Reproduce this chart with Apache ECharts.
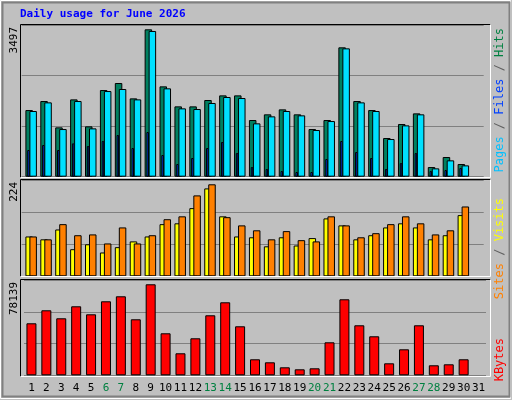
<!DOCTYPE html>
<html><head><meta charset="utf-8">
<script src="https://cdn.jsdelivr.net/npm/echarts@6/dist/echarts.min.js"></script>
<style>html,body{margin:0;padding:0;background:#c0c0c0}#c{width:512px;height:400px}</style>
</head><body><div id="c"></div>
<script>
const days = ['1','2','3','4','5','6','7','8','9','10','11','12','13','14','15','16','17','18','19','20','21','22','23','24','25','26','27','28','29','30','31'];
const weekend = ['6','7','13','14','20','21','27','28'];
const hits = [1582,1796,1171,1835,1195,2057,2223,1859,3497,2144,1669,1669,1820,1930,1930,1345,1480,1598,1480,1131,1345,3070,1796,1582,918,1250,1503,229,467,301,null];
const files = [1559,1764,1131,1796,1147,2033,2081,1835,3458,2097,1622,1606,1749,1891,1867,1266,1432,1559,1456,1108,1321,3046,1764,1559,894,1218,1480,198,388,269,null];
const pages = [633,752,633,791,728,847,989,680,1060,514,301,443,680,823,562,229,182,134,111,111,419,847,585,443,182,324,562,134,158,206,null];
const sites = [97,90,114,66,78,58,71,85,97,127,129,166,214,146,97,95,73,95,75,93,141,124,90,100,119,129,119,90,100,149,null];
const visits = [97,90,127,100,102,80,119,80,100,139,146,197,224,144,124,112,90,110,88,85,146,124,95,105,127,146,129,102,112,170,null];
const kbytes = [44650,55810,48940,59240,52370,63540,67830,48080,78139,36060,18890,31770,51520,62680,42070,13740,11160,6870,5150,6010,28330,65250,42930,33490,10300,22320,42930,8590,9440,13740,null];
const maxLabels = ['3497','224','78139'];

const font = '"DejaVu Sans Mono", monospace';
const L = 27, W = 462;
const panels = [
  {top:25, h:151.7, max:3600},
  {top:180.2, h:96.1, max:234},
  {top:280.6, h:94.7, max:81300}
];
const gdef = [[0,-5.3],[0,-6],[0,-1.3],[1,-5.3],[1,-1.3],[2,-3]];
const grid = gdef.map(g => ({left:L+g[1], width:W, top:panels[g[0]].top, height:panels[g[0]].h}));
const xAxis = gdef.map((g,i) => ({type:'category', gridIndex:i, data:days, show: i===5,
  axisLine:{show:false}, axisTick:{show:false},
  axisLabel: i===5 ? {margin:7, fontFamily:font, fontSize:11, interval:0,
    color: (v)=> weekend.includes(v) ? '#008040' : '#000000'} : {show:false}}));
const yAxis = gdef.map((g,i) => {
  const M = panels[g[0]].max; const first = (i===0||i===3||i===5);
  return {type:'value', gridIndex:i, min:0, max:M, interval:M/3, show:first,
    axisLine:{show:false}, axisTick:{show:false}, axisLabel:{show:false},
    splitLine:{show:first, lineStyle:{color:'#808080', width:1}}};
});
function bar(i, data, color, w, z){
  return {type:'bar', xAxisIndex:i, yAxisIndex:i, data, barWidth:w, z,
    itemStyle:{color, borderColor:'#000', borderWidth:1}, silent:true, animation:false};
}
const series = [
  bar(0,hits,'#008060',7.5,2),
  bar(1,pages,'#0040ff',2.5,3),
  bar(2,files,'#00e0ff',7.5,4),
  bar(3,sites,'#ffff00',7.5,2),
  bar(4,visits,'#ff8000',7.5,3),
  bar(5,kbytes,'#ff0000',10,2)
];
const graphic = [
  {type:'rect', shape:{x:0.5,y:0.5,width:510,height:398}, style:{fill:null, stroke:'#ffffff', lineWidth:1}, z:-10},
  {type:'rect', shape:{x:2.5,y:2.5,width:507,height:394}, style:{fill:null, stroke:'#808080', lineWidth:2}, z:-10},
  {type:'text', left:20, top:9, style:{text:'Daily usage for June 2026', fill:'#0000ff', font:'bold 11px '+font}}
];
const pb = [[20,24,491,178],[20,179,491,277],[20,279,491,377]];
pb.forEach(p=>{
  graphic.push({type:'polyline', shape:{points:[[p[0]+0.5,p[3]-0.5],[p[0]+0.5,p[1]+0.5],[p[2]-0.5,p[1]+0.5]]}, style:{stroke:'#000',fill:null,lineWidth:1}, z:100});
  graphic.push({type:'polyline', shape:{points:[[p[2]-0.5,p[1]+0.5],[p[2]-0.5,p[3]-0.5],[p[0]+0.5,p[3]-0.5]]}, style:{stroke:'#ffffff',fill:null,lineWidth:1}, z:100});
});
const ly = [27, 182, 282];
maxLabels.forEach((t,k)=>{
  graphic.push({type:'text', x:14, y:ly[k], rotation:Math.PI/2,
    style:{text:t, fill:'#000', font:'11px '+font, align:'right', verticalAlign:'middle'}, z:100});
});
const rf = '12px '+font;
function rlab(y, rich, text){
  graphic.push({type:'text', x:500, y, rotation:Math.PI/2,
    style:{text, rich, font:rf, align:'right', verticalAlign:'middle'}, z:100});
}
rlab(28, {p:{fill:'#00c0ff',font:rf},f:{fill:'#0040ff',font:rf},h:{fill:'#008040',font:rf},s:{fill:'#606060',font:rf}},
  '{p|Pages}{s| / }{f|Files}{s| / }{h|Hits}');
rlab(198, {a:{fill:'#ff8000',font:rf},b:{fill:'#ffff00',font:rf},s:{fill:'#606060',font:rf}},
  '{a|Sites}{s| / }{b|Visits}');
rlab(338, {k:{fill:'#ff0000',font:rf}}, '{k|KBytes}');

const chart = echarts.init(document.getElementById('c'), null, {renderer:'canvas'});
chart.setOption({backgroundColor:'#c0c0c0', animation:false, grid, xAxis, yAxis, series, graphic});
</script></body></html>
